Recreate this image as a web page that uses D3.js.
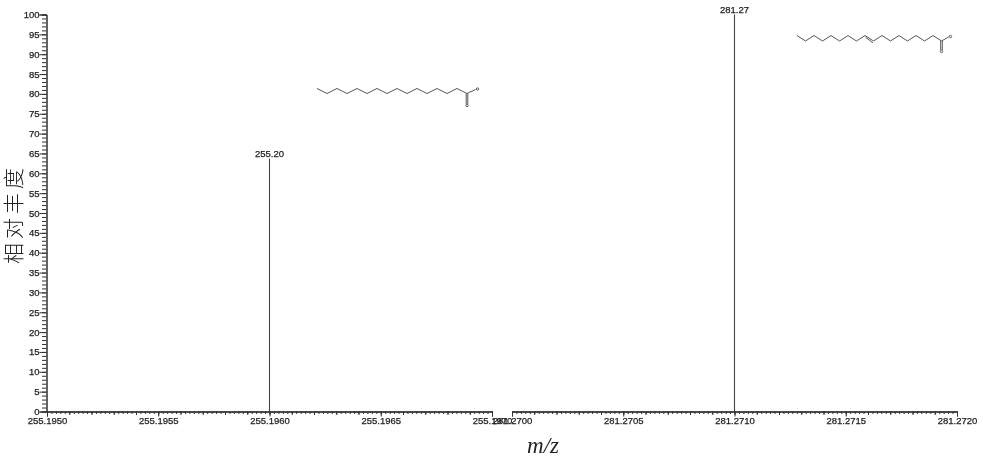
<!DOCTYPE html>
<html>
<head>
<meta charset="utf-8">
<script src="https://cdn.jsdelivr.net/npm/d3@7"></script>
<style>
  html, body { margin: 0; padding: 0; background: #fff; }
  svg { display: block; filter: blur(0.4px); }
  .tick text, .peak { font-family: "Liberation Sans", Arial, sans-serif; font-size: 9.5px; fill: #222; stroke: #222; stroke-width: 0.25px; }
  .domain, .tick line { stroke: #333; stroke-width: 1px; }
</style>
</head>
<body>
<div id="grafico"></div>
<script>
// data
const leftTicks = [255.195, 255.1955, 255.196, 255.1965, 255.197]
const rightTicks = [281.27, 281.2705, 281.271, 281.2715, 281.272]
const yTicks = [0, 5, 10, 15, 20, 25, 30, 35, 40, 45, 50, 55, 60, 65, 70, 75, 80, 85, 90, 95, 100]
const peakMz = [255.196, 281.271]
const peakIntensity = [63.7, 100]
const peakLabels = ["255.20", "281.27"]
const palmitateCarbons = [0, 1, 2, 3, 4, 5, 6, 7, 8, 9, 10, 11, 12, 13, 14, 15]
const oleateCarbons = [0, 1, 2, 3, 4, 5, 6, 7, 8, 9, 10, 11, 12, 13, 14, 15, 16, 17]

var width = 983
var height = 458

var svg = d3.select("#grafico")
  .append("svg")
    .attr("width", width)
    .attr("height", height)

var y = d3.scaleLinear().domain([0, 100]).range([411.5, 14.5])
var xLeft = d3.scaleLinear().domain([255.195, 255.197]).range([47, 492])
var xRight = d3.scaleLinear().domain([281.27, 281.272]).range([512, 957])

// every 1/5 of a 0.0001 step gets a small tick
function subTicks(start, step, n) {
  return d3.range(n + 1).map(function(i) { return start + i * step })
}

function drawXAxis(scale, ticks) {
  var start = ticks[0]
  svg.append("g").attr("transform", "translate(0,411.5)")
    .call(d3.axisBottom(scale).tickValues(subTicks(start, 0.00002, 100)).tickSize(2.5).tickFormat(""))
  svg.append("g").attr("transform", "translate(0,411.5)")
    .call(d3.axisBottom(scale).tickValues(subTicks(start, 0.0001, 20)).tickSize(3.5).tickFormat(""))
  svg.append("g").attr("transform", "translate(0,411.5)")
    .call(d3.axisBottom(scale).tickValues(ticks).tickSize(5).tickPadding(1).tickFormat(d3.format(".4f")))
}
drawXAxis(xLeft, leftTicks)
drawXAxis(xRight, rightTicks)

// y axis, one small tick per unit
svg.append("g").attr("transform", "translate(46.5,0)")
  .call(d3.axisLeft(y).tickValues(d3.range(0, 101)).tickSize(4.5).tickFormat(""))
svg.append("g").attr("transform", "translate(46.5,0)")
  .call(d3.axisLeft(y).tickValues(yTicks).tickSize(7).tickPadding(0).tickFormat(d3.format("d")))

// peaks
var scales = [xLeft, xRight]
peakMz.forEach(function(mz, i) {
  var px = scales[i](mz)
  svg.append("line")
    .attr("x1", px).attr("x2", px)
    .attr("y1", y(0)).attr("y2", y(peakIntensity[i]))
    .attr("stroke", "#444").attr("stroke-width", 1.1)
  svg.append("text")
    .attr("class", "peak")
    .attr("x", px).attr("y", y(peakIntensity[i]) - 1.5)
    .attr("text-anchor", "middle")
    .text(peakLabels[i])
})

// zigzag fatty acid drawings
function drawAcid(carbons, x0, step, yHigh, yLow, oy, doubleAt) {
  var cx = d3.scaleLinear().domain([0, 1]).range([x0, x0 + step])
  var g = svg.append("g").attr("fill", "none").attr("stroke", "#555").attr("stroke-width", 1)
  var cy = function(c) { return c % 2 === 0 ? yHigh : yLow }
  g.append("path").attr("d", d3.line().x(function(c) { return cx(c) }).y(cy)(carbons))
  var last = carbons[carbons.length - 1]
  // carboxyl end
  g.append("line").attr("x1", cx(last)).attr("y1", cy(last)).attr("x2", cx(last) + step * 0.85).attr("y2", cy(last) - 4)
  g.append("line").attr("x1", cx(last) - 0.8).attr("y1", cy(last)).attr("x2", cx(last) - 0.8).attr("y2", oy)
  g.append("line").attr("x1", cx(last) + 0.8).attr("y1", cy(last)).attr("x2", cx(last) + 0.8).attr("y2", oy)
  g.append("circle").attr("cx", cx(last) + step * 1.05).attr("cy", cy(last) - 4.5).attr("r", 1.2)
  g.append("circle").attr("cx", cx(last)).attr("cy", oy + 1.5).attr("r", 1.2)
  if (doubleAt !== null) {
    g.append("line")
      .attr("x1", cx(doubleAt) + 0.6).attr("y1", cy(doubleAt) + 1.8)
      .attr("x2", cx(doubleAt + 1) - 0.6).attr("y2", cy(doubleAt + 1) + 1.8)
  }
}
drawAcid(palmitateCarbons, 317, 10, 88.5, 93.5, 104, null)
drawAcid(oleateCarbons, 797, 8.5, 35.5, 41, 50, 8)

// axis titles
svg.append("text")
  .attr("transform", "translate(21,264) rotate(-90)")
  .style("font-family", "'Noto Sans CJK SC', sans-serif")
  .style("font-weight", 300)
  .style("font-size", "21px")
  .style("letter-spacing", "4px")
  .style("fill", "#222")
  .text("相对丰度")

svg.append("text")
  .attr("x", 543).attr("y", 453)
  .attr("text-anchor", "middle")
  .style("font-family", "'Liberation Serif', serif")
  .style("font-style", "italic")
  .style("font-size", "23px")
  .style("fill", "#222")
  .text("m/z")
</script>
</body>
</html>
